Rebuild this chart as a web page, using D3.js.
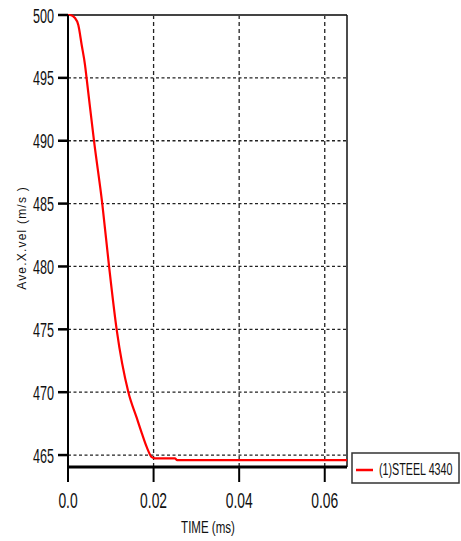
<!DOCTYPE html>
<html lang="en">
<head>
	<meta charset="utf-8">
	<script src="https://d3js.org/d3.v7.min.js"></script>
	<style type="text/css">
		body {
			margin: 0;
			background: #fff;
			font-family: "Liberation Sans", Arial, sans-serif;
		}
	</style>
</head>
<body>
	<script type="text/javascript">
	var width = 461;
	var height = 541;

	// curve values
	var timeMs = [0, 0.00047, 0.00164, 0.00241, 0.0032, 0.00398, 0.00437, 0.00608, 0.00802, 0.00959,
		0.01139, 0.01411, 0.01607, 0.01724, 0.01841, 0.01958, 0.02035, 0.025, 0.0255, 0.0652];
	var aveXvel = [500, 500, 499.76, 499.2, 497.61, 496.02, 494.91, 489.98, 484.96, 480.03,
		474.94, 470.0, 467.95, 466.75, 465.63, 464.83, 464.73, 464.73, 464.6, 464.6];

	var yTicks = [465, 470, 475, 480, 485, 490, 495, 500];
	var xTicks = [0, 0.02, 0.04, 0.06];
	var xTickLabels = ["0.0", "0.02", "0.04", "0.06"];
	var seriesName = "(1)STEEL 4340";

	var x = d3.scaleLinear().domain([0, 0.0652]).range([68, 347]);
	var y = d3.scaleLinear().domain([464.05, 500]).range([467, 15]);

	var svg = d3.select("body").append("svg")
		.attr("width", width)
		.attr("height", height);

	// squeezed text, like the narrow font of the original
	function narrowText(g, tx, ty, str, size, anchor, sx) {
		return g.append("text")
			.attr("transform", "translate(" + tx + "," + ty + ") scale(" + sx + ",1)")
			.attr("text-anchor", anchor)
			.style("font-size", size + "px")
			.style("fill", "#111")
			.text(str);
	}

	// grid
	svg.selectAll(".hgrid")
		.data(yTicks.filter(function(d) { return d < 500; }))
		.enter().append("line")
		.attr("x1", x(0)).attr("x2", x.range()[1])
		.attr("y1", function(d) { return y(d); })
		.attr("y2", function(d) { return y(d); })
		.style("stroke", "#222").style("stroke-width", 1.3)
		.style("stroke-dasharray", "3,2.5");

	svg.selectAll(".vgrid")
		.data(xTicks.filter(function(d) { return d > 0; }))
		.enter().append("line")
		.attr("x1", function(d) { return x(d); })
		.attr("x2", function(d) { return x(d); })
		.attr("y1", y(500)).attr("y2", y.range()[0])
		.style("stroke", "#222").style("stroke-width", 1.3)
		.style("stroke-dasharray", "4,3");

	// frame
	svg.append("line")
		.attr("x1", x(0)).attr("x2", x.range()[1])
		.attr("y1", y(500)).attr("y2", y(500))
		.style("stroke", "#444").style("stroke-width", 2);
	svg.append("line")
		.attr("x1", x.range()[1]).attr("x2", x.range()[1])
		.attr("y1", y(500)).attr("y2", y.range()[0])
		.style("stroke", "#111").style("stroke-width", 1.5);

	// curve
	var line = d3.line()
		.x(function(d) { return x(d[0]); })
		.y(function(d) { return y(d[1]); })
		.curve(d3.curveMonotoneX);

	svg.append("path")
		.datum(d3.zip(timeMs, aveXvel))
		.attr("d", line)
		.style("fill", "none")
		.style("stroke", "#ff0000")
		.style("stroke-width", 2.2);

	// axes
	svg.append("line")
		.attr("x1", x(0)).attr("x2", x(0))
		.attr("y1", y(500)).attr("y2", y.range()[0] + 15)
		.style("stroke", "#000").style("stroke-width", 2);
	svg.append("line")
		.attr("x1", x(0) - 1).attr("x2", x.range()[1])
		.attr("y1", y.range()[0]).attr("y2", y.range()[0])
		.style("stroke", "#000").style("stroke-width", 3);

	var yAxis = svg.append("g");
	yTicks.forEach(function(d) {
		yAxis.append("line")
			.attr("x1", x(0) - 10).attr("x2", x(0))
			.attr("y1", y(d)).attr("y2", y(d))
			.style("stroke", "#000").style("stroke-width", 2.5);
		narrowText(yAxis, x(0) - 14, y(d) + 7.5, d, 21, "end", 0.6);
	});

	var xAxis = svg.append("g");
	xTicks.forEach(function(d, i) {
		xAxis.append("line")
			.attr("x1", x(d)).attr("x2", x(d))
			.attr("y1", y.range()[0]).attr("y2", y.range()[0] + 15)
			.style("stroke", "#000").style("stroke-width", 2);
		narrowText(xAxis, x(d), 508, xTickLabels[i], 22, "middle", 0.63);
	});

	// axis titles
	narrowText(svg, 208, 533, "TIME (ms)", 17, "middle", 0.68);

	svg.append("text")
		.attr("transform", "translate(26,238) rotate(-90)")
		.attr("text-anchor", "middle")
		.style("font-size", "12px")
		.style("letter-spacing", "1.2px")
		.style("fill", "#111")
		.text("Ave.X.vel (m/s )");

	// legend
	var legend = svg.append("g");
	legend.append("rect")
		.attr("x", 352).attr("y", 453)
		.attr("width", 107).attr("height", 30)
		.style("fill", "#fff")
		.style("stroke", "#333").style("stroke-width", 1.5);
	legend.append("line")
		.attr("x1", 356).attr("x2", 373)
		.attr("y1", 470).attr("y2", 470)
		.style("stroke", "#ff0000").style("stroke-width", 2.5);
	narrowText(legend, 379, 475, seriesName, 16.5, "start", 0.65);
	</script>
</body>
</html>
